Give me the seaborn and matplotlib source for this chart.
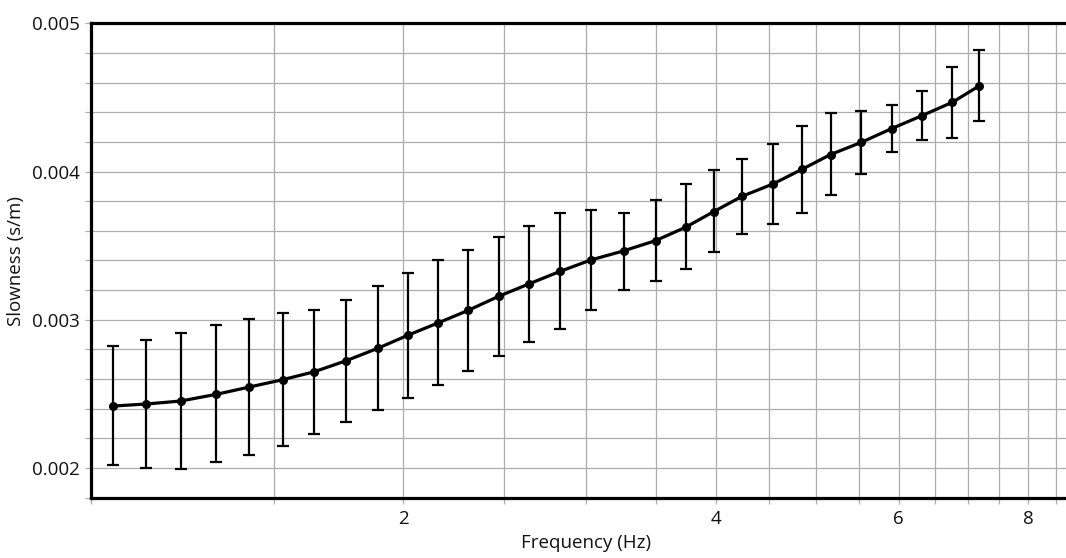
import numpy as np
import pandas as pd
import matplotlib
matplotlib.use("Agg")
import matplotlib.pyplot as plt
from matplotlib.ticker import FixedLocator, NullFormatter, FixedFormatter
import seaborn as sns

# Dispersion curve: slowness vs frequency with uncertainty bounds
frequency_hz = [1.05, 1.13, 1.22, 1.32, 1.42, 1.53, 1.64, 1.76, 1.89, 2.02,
                2.16, 2.31, 2.47, 2.64, 2.83, 3.03, 3.26, 3.50, 3.74, 3.98,
                4.24, 4.54, 4.84, 5.16, 5.52, 5.91, 6.32, 6.76, 7.18]
slowness = [0.002418, 0.002432, 0.002452, 0.002497, 0.002546, 0.002596,
            0.002649, 0.002723, 0.002808, 0.002896, 0.002979, 0.003064,
            0.003158, 0.003241, 0.003326, 0.003403, 0.003465, 0.003534,
            0.003624, 0.003729, 0.003833, 0.003916, 0.004014, 0.004115,
            0.004196, 0.004290, 0.004377, 0.004467, 0.004579]
slowness_low = [0.002022, 0.001999, 0.001995, 0.002040, 0.002087, 0.002152,
                0.002233, 0.002313, 0.002389, 0.002470, 0.002559, 0.002658,
                0.002759, 0.002853, 0.002936, 0.003064, 0.003198, 0.003263,
                0.003342, 0.003458, 0.003581, 0.003647, 0.003723, 0.003844,
                0.003983, 0.004131, 0.004214, 0.004227, 0.004344]
slowness_high = [0.002822, 0.002865, 0.002914, 0.002963, 0.003006, 0.003046,
                 0.003068, 0.003134, 0.003230, 0.003319, 0.003405, 0.003474,
                 0.003557, 0.003633, 0.003721, 0.003739, 0.003723, 0.003808,
                 0.003914, 0.004010, 0.004086, 0.004185, 0.004308, 0.004393,
                 0.004411, 0.004449, 0.004546, 0.004707, 0.004817]

x_tick_values = [2, 4, 6, 8]
x_tick_labels = ["2", "4", "6", "8"]
y_tick_values = [0.002, 0.003, 0.004, 0.005]
y_tick_labels = ["0.002", "0.003", "0.004", "0.005"]

df = pd.DataFrame({
    "Frequency (Hz)": frequency_hz,
    "Slowness (s/m)": slowness,
    "low": slowness_low,
    "high": slowness_high,
})

sns.set_theme(style="white")
plt.rcParams["font.family"] = ["Open Sans", "DejaVu Sans"]

W, H = 1066, 558
fig = plt.figure(figsize=(W / 100, H / 100), dpi=100)
ax = fig.add_axes([91 / W, 1 - 497.7 / H, 990.3 / W, 474.4 / H])

ax.set_xscale("log")
ax.set_xlim(1.0, 9.0)
ax.set_ylim(0.0018, 0.005)

# grid lines every 0.5 Hz and every 0.0002 s/m
grid_color = "#adadad"
x_minor = [v for v in np.arange(1.0, 9.01, 0.5) if v not in x_tick_values]
ax.xaxis.set_major_locator(FixedLocator(x_tick_values))
ax.xaxis.set_major_formatter(FixedFormatter(x_tick_labels))
ax.xaxis.set_minor_locator(FixedLocator(x_minor))
ax.xaxis.set_minor_formatter(NullFormatter())
ax.yaxis.set_major_locator(FixedLocator(y_tick_values))
ax.yaxis.set_major_formatter(FixedFormatter(y_tick_labels))
ax.yaxis.set_minor_locator(FixedLocator(np.arange(0.0018, 0.00501, 0.0002)))
ax.grid(True, which="both", color=grid_color, linewidth=0.9)
ax.set_axisbelow(True)

ax.tick_params(which="both", direction="out", length=4.5, width=0.9,
               color=grid_color, left=True, bottom=True)
ax.tick_params(axis="both", which="major", labelsize=13.5,
               labelcolor="#111111")
ax.tick_params(axis="y", pad=3.5)
ax.tick_params(axis="x", pad=4.5)

err_lower = df["Slowness (s/m)"] - df["low"]
err_upper = df["high"] - df["Slowness (s/m)"]
ax.errorbar(df["Frequency (Hz)"], df["Slowness (s/m)"],
            yerr=[err_lower, err_upper], fmt="none", ecolor="black",
            elinewidth=1.6, capsize=4.5, capthick=1.6, zorder=3)
sns.lineplot(data=df, x="Frequency (Hz)", y="Slowness (s/m)", ax=ax,
             color="black", linewidth=2.3, marker="o", markersize=6.5,
             markeredgewidth=0, zorder=4)

for side in ["left", "bottom", "top"]:
    ax.spines[side].set_visible(True)
    ax.spines[side].set_color("black")
    ax.spines[side].set_linewidth(2.3)
ax.spines["right"].set_visible(False)

ax.set_xlabel("Frequency (Hz)", fontsize=13.5, color="#111111", labelpad=4)
ax.set_ylabel("Slowness (s/m)", fontsize=13.5, color="#111111", labelpad=5)

fig.savefig("out.png", dpi=100)
